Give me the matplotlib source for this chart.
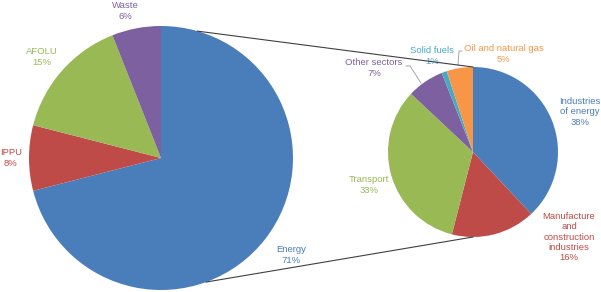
import numpy as np
import matplotlib
matplotlib.use('Agg')
import matplotlib.pyplot as plt

# main pie: GHG emissions by sector
main_labels = ["Energy", "IPPU", "AFOLU", "Waste"]
main_values = [71, 8, 15, 6]
main_colors = ["#4a7ebb", "#be4b48", "#98b954", "#7d60a0"]

# energy breakdown
sub_labels = ["Industries\nof energy", "Manufacture\nand\nconstruction\nindustries",
              "Transport", "Other sectors", "Solid fuels", "Oil and natural gas"]
sub_values = [38, 16, 33, 7, 1, 5]
sub_colors = ["#4a7ebb", "#be4b48", "#98b954", "#7d60a0", "#46aac5", "#f79646"]

plt.rcParams['font.family'] = ['Liberation Sans', 'DejaVu Sans']

W, H = 601, 292
fig = plt.figure(figsize=(W / 100, H / 100), dpi=100)
ax = fig.add_axes([0, 0, 1, 1])

c1, r1 = (161, 134), 132
c2, r2 = (473, 140), 85

ax.pie(main_values, colors=main_colors, startangle=90, counterclock=False,
       center=c1, radius=r1, wedgeprops=dict(linewidth=0), frame=True)
ax.pie(sub_values, colors=sub_colors, startangle=90, counterclock=False,
       center=c2, radius=r2, wedgeprops=dict(linewidth=0), frame=True)
ax.set_xlim(0, W)
ax.set_ylim(0, H)
ax.set_aspect('equal')
ax.axis('off')

# connector lines from main pie to sub pie
def on_circle(c, r, deg):
    a = np.radians(deg)
    return c[0] + r * np.cos(a), c[1] + r * np.sin(a)

for a_main, a_sub in [(74, 90), (-70, -90)]:
    x0, y0 = on_circle(c1, r1, a_main)
    x1, y1 = on_circle(c2, r2, a_sub)
    ax.plot([x0, x1], [y0, y1], color="#404040", lw=0.8, zorder=5)

fs = 6.8
main_pos = [(291, 37), (11, 134), (42, 235), (125, 281)]
for lab, v, col, (x, y) in zip(main_labels, main_values, main_colors, main_pos):
    ax.text(x, y, "%s\n%d%%" % (lab, v), color=col, fontsize=fs,
            ha='center', va='center', linespacing=1.2)

sub_pos = [(580, 180), (569, 55), (369, 107), (374, 224), (432, 236), (504, 238)]
for lab, v, col, (x, y) in zip(sub_labels, sub_values, sub_colors, sub_pos):
    ax.text(x, y, "%s\n%d%%" % (lab, v), color=col, fontsize=fs,
            ha='center', va='center', linespacing=1.2)

# leader lines
ax.plot([406, 410, 421], [H - 66, H - 66, H - 83], color="#a6a6a6", lw=0.7)
ax.plot([462, 459, 458], [H - 51, H - 51, H - 65], color="#a6a6a6", lw=0.7)

fig.savefig("out.png", dpi=100)
